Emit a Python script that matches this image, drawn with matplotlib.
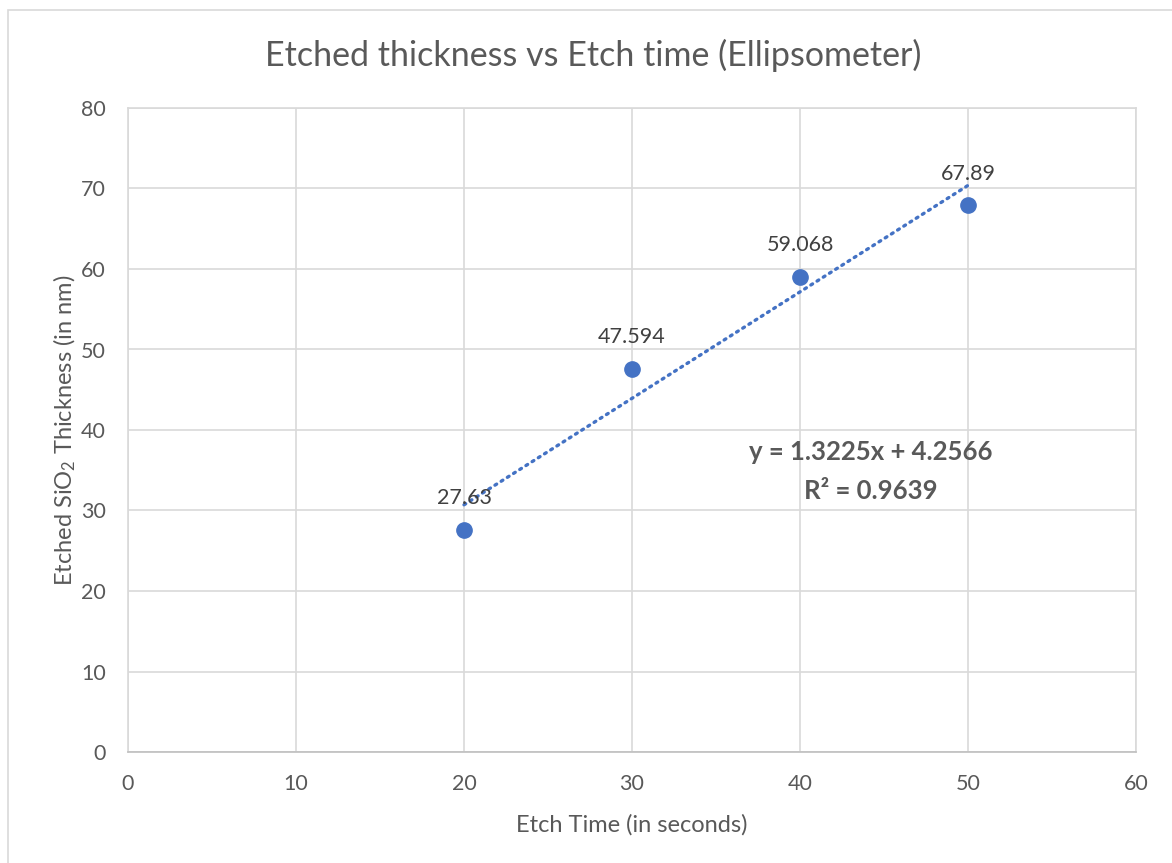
import numpy as np
import matplotlib.pyplot as plt
from matplotlib.patches import Rectangle

etch_time = [20, 30, 40, 50]
thickness = [27.63, 47.594, 59.068, 67.89]
point_labels = ["27.63", "47.594", "59.068", "67.89"]

plt.rcParams['font.family'] = ['Lato', 'DejaVu Sans']
plt.rcParams['mathtext.default'] = 'regular'

grey = '#595959'
blue = '#4472C4'

fig = plt.figure(figsize=(11.72, 8.63), dpi=100)
fig.patches.append(Rectangle((8 / 1172, -0.1), 1.2, (863 - 10) / 863 + 0.1,
                             transform=fig.transFigure, fill=False,
                             edgecolor='#d9d9d9', linewidth=1.2))
ax = fig.add_axes([128 / 1172, 111 / 863, 1008 / 1172, 644 / 863])

ax.plot(etch_time, thickness, 'o', color=blue, markersize=11, zorder=3)

# linear trendline
m, b = np.polyfit(etch_time, thickness, 1)
tx = np.array([min(etch_time), max(etch_time)])
ax.plot(tx, m * tx + b, linestyle=(0, (0.6, 1.6)), dash_capstyle='round',
        color=blue, linewidth=2.4, zorder=2)

for x, y, lab in zip(etch_time, thickness, point_labels):
    ax.annotate(lab, (x, y), xytext=(0, 23), textcoords='offset points',
                ha='center', va='center', fontsize=15.5, color='#404040')

ax.text(44.2, 37.3, 'y = %.4fx + %.4f' % (m, b), ha='center', va='center',
        fontsize=18.5, fontweight='bold', color=grey)
ax.text(44.2, 32.4, 'R² = 0.9639', ha='center', va='center',
        fontsize=18.5, fontweight='bold', color=grey)

ax.set_xlim(0, 60)
ax.set_ylim(0, 80)
ax.set_xticks(range(0, 61, 10))
ax.set_yticks(range(0, 81, 10))
ax.grid(True, color='#d9d9d9', linewidth=1.2)
ax.set_axisbelow(True)
for s in ax.spines.values():
    s.set_color('#d9d9d9')
    s.set_linewidth(1.2)
ax.spines['bottom'].set_color('#bfbfbf')
ax.tick_params(length=0, labelsize=15.5, colors=grey)
ax.tick_params(axis='x', pad=16)
ax.tick_params(axis='y', pad=16)

ax.set_xlabel('Etch Time (in seconds)', fontsize=17, color=grey, labelpad=14)
ax.set_ylabel('Etched SiO$_2$ Thickness (in nm)', fontsize=17, color=grey, labelpad=2)
fig.text(593 / 1172, 1 - 55 / 863, 'Etched thickness vs Etch time (Ellipsometer)',
         ha='center', va='center', fontsize=24.5, color=grey)

fig.savefig('out.png', dpi=100)
